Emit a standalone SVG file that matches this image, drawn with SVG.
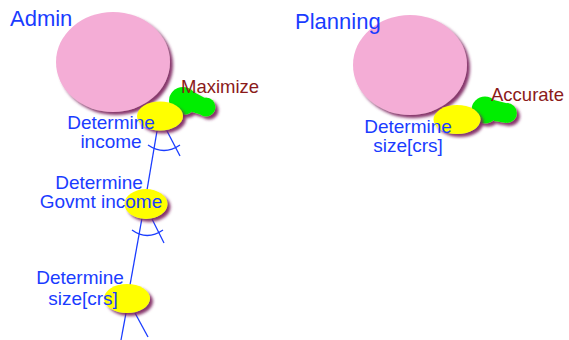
<svg xmlns="http://www.w3.org/2000/svg" width="569" height="340" viewBox="0 0 569 340">
  <defs>
    <filter id="shadow" x="-20%" y="-20%" width="150%" height="150%">
      <feGaussianBlur in="SourceAlpha" stdDeviation="1.6" result="b"/>
      <feOffset in="b" dx="3" dy="3" result="o"/>
      <feFlood flood-color="#7a1f5c" flood-opacity="0.9"/>
      <feComposite in2="o" operator="in" result="s"/>
      <feMerge><feMergeNode in="s"/><feMergeNode in="SourceGraphic"/></feMerge>
    </filter>
  </defs>
  <style>
    .agent { fill: #f4add6; filter: url(#shadow); }
    .goal { fill: #ffff00; filter: url(#shadow); }
    .soft { fill: #00ee00; filter: url(#shadow); }
    .title { font-family: "Liberation Sans", Arial, sans-serif; font-size: 22px; fill: #1a3cff; }
    .lbl { font-family: "Liberation Sans", Arial, sans-serif; font-size: 19px; fill: #1a3cff; text-anchor: middle; }
    .softlbl { font-family: "Liberation Sans", Arial, sans-serif; font-size: 18.5px; fill: #8b1a1a; }
    .link { stroke: #1a3cff; stroke-width: 1.3; fill: none; }
  </style>

  <g id="admin">
    <ellipse class="agent" cx="113" cy="62" rx="57" ry="50"/>
    <text class="title" x="10" y="26">Admin</text>
  </g>

  <g id="planning">
    <ellipse class="agent" cx="410" cy="65" rx="57" ry="50"/>
    <text class="title" x="295" y="29">Planning</text>
  </g>

  <g id="connectors">
    <!-- income to Govmt income -->
    <line class="link" x1="157" y1="131" x2="147" y2="190"/>
    <line class="link" x1="167" y1="131" x2="180" y2="156"/>
    <path class="link" d="M148 145 Q164 156 180 145"/>
    <!-- Govmt income to size[crs] -->
    <line class="link" x1="142" y1="218" x2="130" y2="285"/>
    <line class="link" x1="152" y1="219" x2="164" y2="243"/>
    <path class="link" d="M132 230 Q147 241 163 230"/>
    <!-- below size[crs] -->
    <line class="link" x1="126" y1="313" x2="121" y2="340"/>
    <line class="link" x1="135" y1="313" x2="148" y2="337"/>
  </g>

  <g id="maximize">
    <g class="soft">
      <circle cx="183" cy="101" r="14"/>
      <circle cx="206" cy="107" r="9.5"/>
      <polygon points="192,91 205,98 205,116 192,112"/>
    </g>
    <text class="softlbl" x="181" y="93">Maximize</text>
  </g>

  <g id="determine-income">
    <ellipse class="goal" cx="160" cy="116" rx="23" ry="14.5"/>
    <text class="lbl" x="111" y="129">Determine</text>
    <text class="lbl" x="111" y="148">income</text>
  </g>

  <g id="determine-govmt-income">
    <ellipse class="goal" cx="146" cy="204" rx="21.5" ry="15"/>
    <text class="lbl" x="99" y="189">Determine</text>
    <text class="lbl" x="101" y="208">Govmt income</text>
  </g>

  <g id="determine-size-admin">
    <ellipse class="goal" cx="127" cy="298.5" rx="23" ry="14.5"/>
    <text class="lbl" x="80" y="284">Determine</text>
    <text class="lbl" x="83" y="305">size[crs]</text>
  </g>

  <g id="accurate">
    <g class="soft">
      <circle cx="485" cy="110" r="13.5"/>
      <circle cx="507" cy="113" r="10"/>
      <polygon points="494,100 506,103 506,123 494,121"/>
    </g>
    <text class="softlbl" x="491" y="101">Accurate</text>
  </g>

  <g id="determine-size-planning">
    <ellipse class="goal" cx="457" cy="119.5" rx="23.5" ry="14.5"/>
    <text class="lbl" x="408" y="133">Determine</text>
    <text class="lbl" x="408" y="152">size[crs]</text>
  </g>
</svg>
